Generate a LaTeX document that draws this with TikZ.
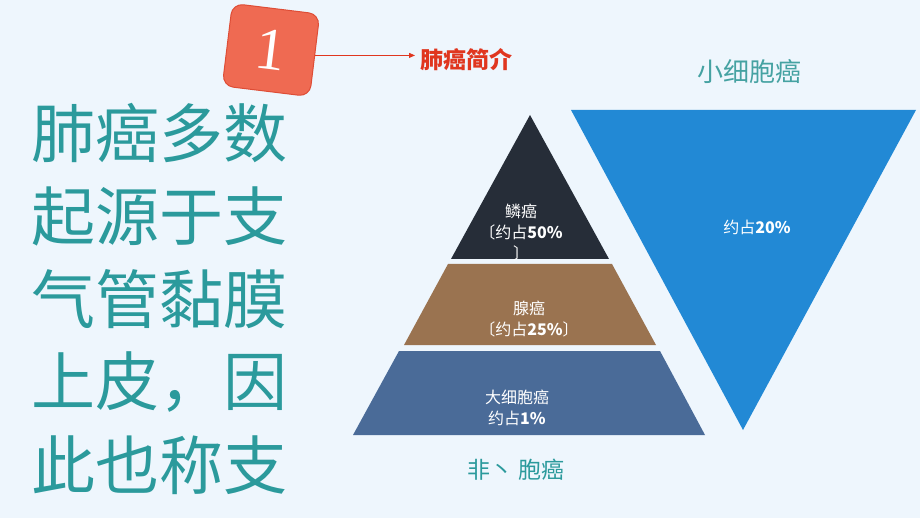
\documentclass[tikz,border=0pt]{standalone}
\usepackage{fontspec}
\setmainfont{Noto Sans CJK SC}
\newfontfamily\numfont{Liberation Serif}
\usetikzlibrary{arrows.meta}
\definecolor{bg}{HTML}{EEF6FD}
\definecolor{boxfill}{HTML}{EF6A52}
\definecolor{boxedge}{HTML}{DE4D36}
\definecolor{titlered}{HTML}{E0361F}
\definecolor{teal}{HTML}{2B9A9C}
\definecolor{teallight}{HTML}{45A2A2}
\definecolor{darktri}{HTML}{262D38}
\definecolor{browntrap}{HTML}{9A7350}
\definecolor{bluetrap}{HTML}{4A6B98}
\definecolor{brightblue}{HTML}{2289D5}
\tikzset{
  bigtext/.style={anchor=west, inner sep=0pt, text=teal, font=\fontsize{64}{64}\selectfont},
  inlabel/.style={text=white, align=center, inner sep=0pt, font=\fontsize{16}{21}\selectfont},
}
\begin{document}
\begin{tikzpicture}[x=1pt,y=-1pt]
\useasboundingbox[fill=bg] (0,0) rectangle (920,518);

% numbered box
\node[draw=boxedge, fill=boxfill, line width=1pt, rounded corners=11pt,
      minimum width=88pt, minimum height=83pt, rotate=-7,
      text=white, font=\numfont\fontsize{60}{60}\selectfont] (num) at (271,50) {1};
\node[anchor=west, inner sep=0pt, text=titlered, font=\bfseries\fontsize{23}{23}\selectfont] (title) at (420,60) {肺癌简介};
\draw[titlered, line width=0.8pt, -{Triangle[length=6pt,width=5pt]}] (num.east) -- ([xshift=-5pt]title.west |- num.east);

% left text
\node[bigtext] (l1) at (31,133) {肺癌多数};
\node[bigtext] (l2) at (31,216) {起源于支};
\node[bigtext] (l3) at (31,299) {气管黏膜};
\node[bigtext] (l4) at (31,382) {上皮，因};
\node[bigtext] (l5) at (31,465) {此也称支};

% pyramid
\fill[darktri] (530,115) -- (609,259) -- (451,259) -- cycle;
\fill[browntrap] (448,264) -- (612,264) -- (656,345) -- (404,345) -- cycle;
\fill[bluetrap] (399,351) -- (660,351) -- (705,435) -- (353,435) -- cycle;

% inverted triangle
\fill[brightblue] (571,110) -- (916,110) -- (743,430) -- cycle;

% labels in shapes
\node[inlabel] (t1) at (521,233) {鳞癌\\〔约占\textbf{50\%}\\〕};
\node[inlabel] (t2) at (529,319) {腺癌\\〔约占\textbf{25\%}〕};
\node[inlabel] (t3) at (517,408) {大细胞癌\\约占\textbf{1\%}};
\node[inlabel] (t4) at (757,227) {约占\textbf{20\%}};

% outside labels
\node[text=teallight, font=\fontsize{26}{26}\selectfont] (small) at (749,72) {小细胞癌};
\node[text=teal, font=\fontsize{23}{23}\selectfont] (nonsmall) at (516,470) {非丶 胞癌};
\end{tikzpicture}
\end{document}
